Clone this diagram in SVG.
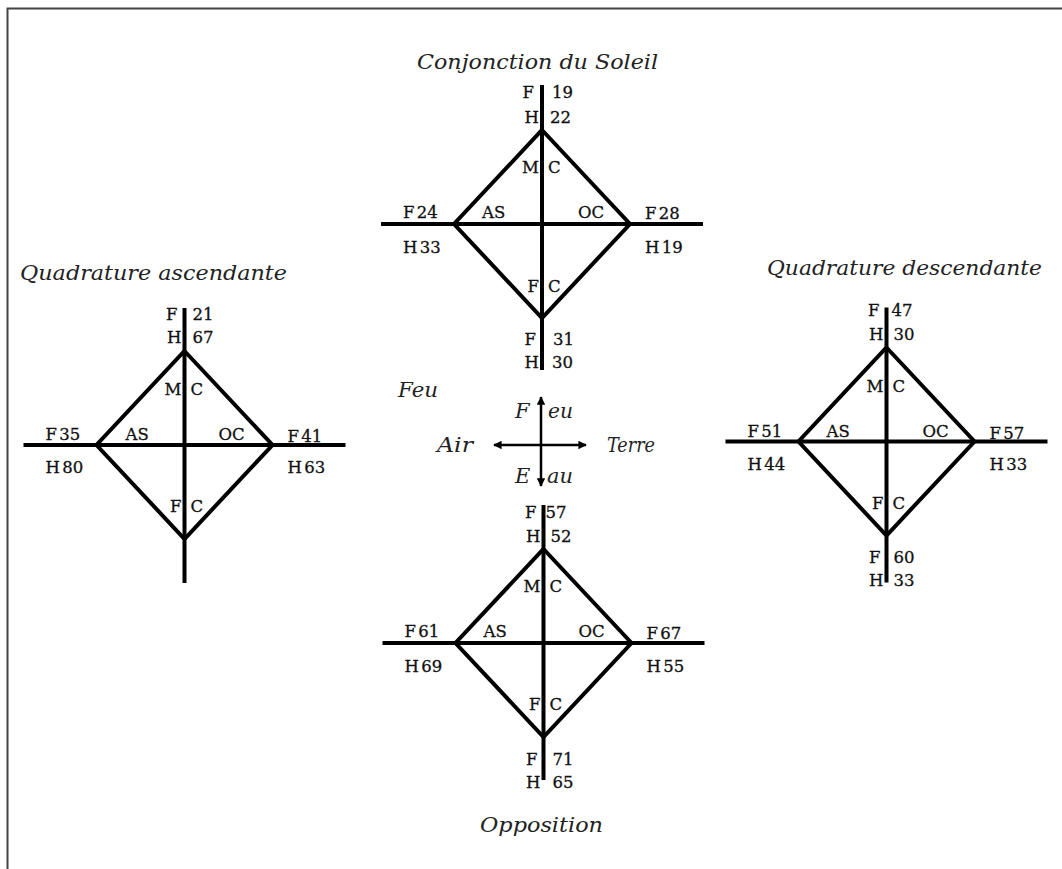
<svg xmlns="http://www.w3.org/2000/svg" xmlns:xlink="http://www.w3.org/1999/xlink" width="1062" height="869" viewBox="0 0 1062 869">
<style>
.lab{font-family:"DejaVu Serif","Liberation Serif",serif;font-size:16.5px;fill:#111;stroke:#111;stroke-width:0.3}
.e{text-anchor:end}
.tit{font-family:"DejaVu Serif","Liberation Serif",serif;font-style:italic;font-size:21px;fill:#222}
.ln{stroke:#000;stroke-width:4;fill:none}
.ar{stroke:#000;stroke-width:2.5;fill:none}
</style>
<defs>
<polygon id="dia" points="0,-94 88,0 0,94 -88,0" class="ln" stroke-linejoin="miter"/>
<marker id="ah" viewBox="0 0 10 10" refX="9" refY="5" markerWidth="3.4" markerHeight="3.4" orient="auto" markerUnits="strokeWidth">
<path d="M0,0 L10,5 L0,10 Z" fill="#000"/>
</marker>
</defs>
<rect width="1062" height="869" fill="#fff"/>
<path d="M7.5,869 V8.5 H1062" fill="none" stroke="#444" stroke-width="2"/>

<g id="conjonction" transform="translate(542,224)">
<text class="tit" x="-125" y="-155" textLength="241" lengthAdjust="spacingAndGlyphs">Conjonction du Soleil</text>
<use xlink:href="#dia"/>
<line class="ln" x1="0" y1="-139" x2="0" y2="146"/>
<line class="ln" x1="-161" y1="0" x2="161" y2="0"/>
<text class="lab e" x="-8" y="-126">F</text><text class="lab" x="10" y="-126">19</text>
<text class="lab e" x="-3" y="-101">H</text><text class="lab" x="8" y="-101">22</text>
<text class="lab e" x="-3" y="-51">M</text><text class="lab" x="6" y="-51">C</text>
<text class="lab" x="-60" y="-6">AS</text>
<text class="lab" x="36" y="-6">OC</text>
<text class="lab" x="-139" y="-6" word-spacing="-3">F 24</text>
<text class="lab" x="103" y="-5" word-spacing="-3">F 28</text>
<text class="lab" x="-139" y="29" word-spacing="-3">H 33</text>
<text class="lab" x="103" y="29" word-spacing="-3">H 19</text>
<text class="lab e" x="-3" y="68">F</text><text class="lab" x="6" y="68">C</text>
<text class="lab e" x="-6" y="121">F</text><text class="lab" x="11" y="121">31</text>
<text class="lab e" x="-3" y="144">H</text><text class="lab" x="10" y="144">30</text>
</g>

<g id="quadrature-ascendante" transform="translate(184.5,445)">
<text class="tit" x="-164.5" y="-165" textLength="267" lengthAdjust="spacingAndGlyphs">Quadrature ascendante</text>
<use xlink:href="#dia"/>
<line class="ln" x1="0" y1="-137" x2="0" y2="138"/>
<line class="ln" x1="-161" y1="0" x2="161" y2="0"/>
<text class="lab e" x="-7" y="-125">F</text><text class="lab" x="8" y="-125">21</text>
<text class="lab e" x="-3" y="-102">H</text><text class="lab" x="8" y="-102">67</text>
<text class="lab e" x="-3" y="-50">M</text><text class="lab" x="6" y="-50">C</text>
<text class="lab" x="-59" y="-5">AS</text>
<text class="lab" x="34" y="-5">OC</text>
<text class="lab" x="-139" y="-5" word-spacing="-3">F 35</text>
<text class="lab" x="103" y="-3" word-spacing="-3">F 41</text>
<text class="lab" x="-139" y="28" word-spacing="-3">H 80</text>
<text class="lab" x="103" y="28" word-spacing="-3">H 63</text>
<text class="lab e" x="-3" y="67">F</text><text class="lab" x="6" y="67">C</text>
</g>

<g id="quadrature-descendante" transform="translate(886.5,441.5)">
<text class="tit" x="-119.5" y="-166.5" textLength="275" lengthAdjust="spacingAndGlyphs">Quadrature descendante</text>
<use xlink:href="#dia"/>
<line class="ln" x1="0" y1="-134" x2="0" y2="141"/>
<line class="ln" x1="-161" y1="0" x2="161" y2="0"/>
<text class="lab e" x="-7" y="-126">F</text><text class="lab" x="5" y="-126">47</text>
<text class="lab e" x="-3" y="-102">H</text><text class="lab" x="7" y="-102">30</text>
<text class="lab e" x="-3" y="-50">M</text><text class="lab" x="6" y="-50">C</text>
<text class="lab" x="-60" y="-5">AS</text>
<text class="lab" x="36" y="-5">OC</text>
<text class="lab" x="-139" y="-5" word-spacing="-3">F 51</text>
<text class="lab" x="103" y="-3" word-spacing="-3">F 57</text>
<text class="lab" x="-139" y="28" word-spacing="-3">H 44</text>
<text class="lab" x="103" y="28" word-spacing="-3">H 33</text>
<text class="lab e" x="-3" y="67">F</text><text class="lab" x="6" y="67">C</text>
<text class="lab e" x="-6" y="121">F</text><text class="lab" x="7" y="121">60</text>
<text class="lab e" x="-3" y="144">H</text><text class="lab" x="7" y="144">33</text>
</g>

<g id="opposition" transform="translate(543.5,643)">
<text class="tit" x="-63.5" y="189" textLength="123" lengthAdjust="spacingAndGlyphs">Opposition</text>
<use xlink:href="#dia"/>
<line class="ln" x1="0" y1="-138" x2="0" y2="137"/>
<line class="ln" x1="-161" y1="0" x2="161" y2="0"/>
<text class="lab e" x="-7" y="-125">F</text><text class="lab" x="2" y="-125">57</text>
<text class="lab e" x="-3" y="-101">H</text><text class="lab" x="7" y="-101">52</text>
<text class="lab e" x="-3" y="-51">M</text><text class="lab" x="6" y="-51">C</text>
<text class="lab" x="-60" y="-6">AS</text>
<text class="lab" x="35" y="-6">OC</text>
<text class="lab" x="-139" y="-6" word-spacing="-3">F 61</text>
<text class="lab" x="103" y="-4" word-spacing="-3">F 67</text>
<text class="lab" x="-139" y="29" word-spacing="-3">H 69</text>
<text class="lab" x="103" y="29" word-spacing="-3">H 55</text>
<text class="lab e" x="-3" y="67">F</text><text class="lab" x="6" y="67">C</text>
<text class="lab e" x="-6" y="122">F</text><text class="lab" x="9" y="122">71</text>
<text class="lab e" x="-3" y="145">H</text><text class="lab" x="9" y="145">65</text>
</g>

<g id="compass">
<text class="tit" x="398" y="397" textLength="40" lengthAdjust="spacingAndGlyphs">Feu</text>
<text class="tit" x="515" y="418">F</text>
<text class="tit" x="548" y="418" textLength="25" lengthAdjust="spacingAndGlyphs">eu</text>
<text class="tit" x="437" y="452" textLength="36" lengthAdjust="spacingAndGlyphs">Air</text>
<text class="tit" x="607" y="452" textLength="48" lengthAdjust="spacingAndGlyphs">Terre</text>
<text class="tit" x="515" y="483">E</text>
<text class="tit" x="547" y="483" textLength="26" lengthAdjust="spacingAndGlyphs">au</text>
</g>

<g id="connectors">
<line class="ar" x1="541" y1="445" x2="541" y2="397" marker-end="url(#ah)"/>
<line class="ar" x1="541" y1="445" x2="541" y2="486" marker-end="url(#ah)"/>
<line class="ar" x1="541" y1="445" x2="494" y2="445" marker-end="url(#ah)"/>
<line class="ar" x1="541" y1="445" x2="586" y2="445" marker-end="url(#ah)"/>
</g>
</svg>
